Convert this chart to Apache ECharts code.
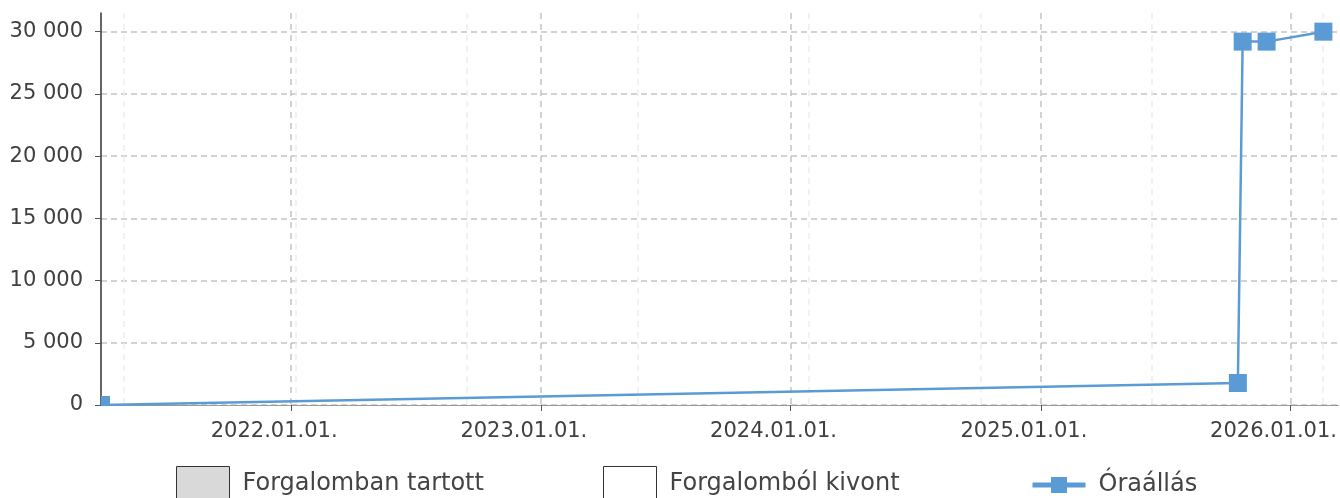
<!DOCTYPE html>
<html>
<head>
<meta charset="utf-8">
<script src="https://cdn.jsdelivr.net/npm/echarts@6/dist/echarts.min.js"></script>
<style>
html, body { margin: 0; padding: 0; background: #fff; }
#chart { width: 1340px; height: 498px; }
</style>
</head>
<body>
<div id="chart"></div>
<script>
// Óraállás leolvasások (dátum, km)
var readingDates = ['2021-03-29', '2025-10-16', '2025-10-23', '2025-11-27', '2026-02-18'];
var readingValues = [0, 1770, 29200, 29200, 30000];

// jelmagyarázat
var statusNames = ['Forgalomban tartott', 'Forgalomból kivont'];
var readingName = 'Óraállás';

// tengely határok
var xMin = '2021-03-29';
var xMax = '2026-03-12';
var yMax = 31500;
var yStep = 5000;

var blue = '#5b9bd5';
var font = 'DejaVu Sans';
var txt = '#404040';

function toTime(s) {
    var p = s.split('-');
    return new Date(+p[0], +p[1] - 1, +p[2]).getTime();
}
function spaced(v) {
    return String(v).replace(/\B(?=(\d{3})+(?!\d))/g, ' ');
}
function pad(n) {
    return n < 10 ? '0' + n : '' + n;
}
function dateLabel(v) {
    var d = new Date(v);
    return d.getFullYear() + '.' + pad(d.getMonth() + 1) + '.' + pad(d.getDate()) + '.';
}

var points = readingDates.map(function (d, i) {
    return [toTime(d), readingValues[i]];
});

var chart = echarts.init(document.getElementById('chart'));

function legendBox(name, left, top, w, h, icon, extra) {
    var l = {
        data: [icon ? { name: name, icon: icon } : name],
        left: left,
        top: top,
        padding: 0,
        itemWidth: w,
        itemHeight: h,
        selectedMode: false,
        textStyle: { fontFamily: font, fontSize: 24, color: '#444', padding: [7, 0, 0, 8] },
        itemStyle: { borderWidth: 1 }
    };
    if (extra) Object.assign(l, extra);
    return l;
}

var option = {
    animation: false,
    backgroundColor: '#fff',
    grid: [
        { left: 101, right: 1, top: 13, bottom: 93 },
        // halvány segédrács
        { left: 124, right: 17, top: 13, bottom: 93 }
    ],
    legend: [
        legendBox(statusNames[0], 176, 466, 53, 34, 'rect'),
        legendBox(statusNames[1], 603, 466, 53, 34, 'rect'),
        legendBox(readingName, 1030, 473, 53, 20, null, { lineStyle: { width: 5 } })
    ],
    xAxis: [
        {
            type: 'time',
            gridIndex: 0,
            min: toTime(xMin),
            max: toTime(xMax),
            minInterval: 365 * 24 * 3600 * 1000,
            maxInterval: 366 * 24 * 3600 * 1000,
            axisLine: { show: true, lineStyle: { color: '#999', width: 1 } },
            axisTick: { show: true, length: 6, lineStyle: { color: '#555' } },
            axisLabel: {
                formatter: dateLabel,
                fontFamily: font,
                fontSize: 21,
                color: txt,
                margin: 16,
                padding: [0, 34, 0, 0],
                showMinLabel: false,
                showMaxLabel: false
            },
            splitLine: {
                show: true,
                showMinLine: false,
                showMaxLine: false,
                lineStyle: { color: '#c4c4c4', type: [6, 5], width: 1.5 }
            }
        },
        {
            type: 'value',
            gridIndex: 1,
            min: 0,
            max: 7,
            interval: 1,
            axisLine: { show: false },
            axisTick: { show: false },
            axisLabel: { show: false },
            splitLine: { show: true, lineStyle: { color: '#eeeeee', type: [6, 5], width: 1.5 } }
        }
    ],
    yAxis: [
        {
            type: 'value',
            gridIndex: 0,
            min: 0,
            max: yMax,
            interval: yStep,
            axisLine: { show: true, lineStyle: { color: '#333', width: 1.5 } },
            axisTick: { show: true, length: 6, lineStyle: { color: '#555' } },
            axisLabel: {
                formatter: spaced,
                fontFamily: font,
                fontSize: 21,
                color: txt,
                margin: 18,
                padding: [3, 0, 0, 0],
                showMaxLabel: false
            },
            splitLine: {
                show: true,
                showMaxLine: false,
                lineStyle: { color: '#c4c4c4', type: [6, 4], width: 1.5 }
            }
        },
        {
            type: 'value',
            gridIndex: 1,
            show: false,
            splitLine: { show: false }
        }
    ],
    series: [
        {
            name: statusNames[0],
            type: 'scatter',
            data: [],
            itemStyle: { color: '#d9d9d9', opacity: 1, borderColor: '#333', borderWidth: 1 }
        },
        {
            name: statusNames[1],
            type: 'scatter',
            data: [],
            itemStyle: { color: '#ffffff', opacity: 1, borderColor: '#333', borderWidth: 1 }
        },
        {
            name: readingName,
            type: 'line',
            data: points,
            symbol: 'rect',
            symbolSize: 18,
            showSymbol: false,
            clip: true,
            lineStyle: { color: blue, width: 2.5 },
            itemStyle: { color: blue }
        },
        {
            // jelölők a rácsra vágva
            type: 'custom',
            data: points,
            silent: true,
            z: 3,
            renderItem: function (params, api) {
                var p = api.coord([api.value(0), api.value(1)]);
                var s = 18;
                var cs = params.coordSys;
                var r = echarts.graphic.clipRectByRect(
                    { x: p[0] - s / 2, y: p[1] - s / 2, width: s, height: s },
                    { x: cs.x, y: cs.y, width: cs.width, height: cs.height }
                );
                if (!r) return null;
                return { type: 'rect', shape: r, style: { fill: blue } };
            }
        }
    ]
};

chart.setOption(option);
</script>
</body>
</html>
